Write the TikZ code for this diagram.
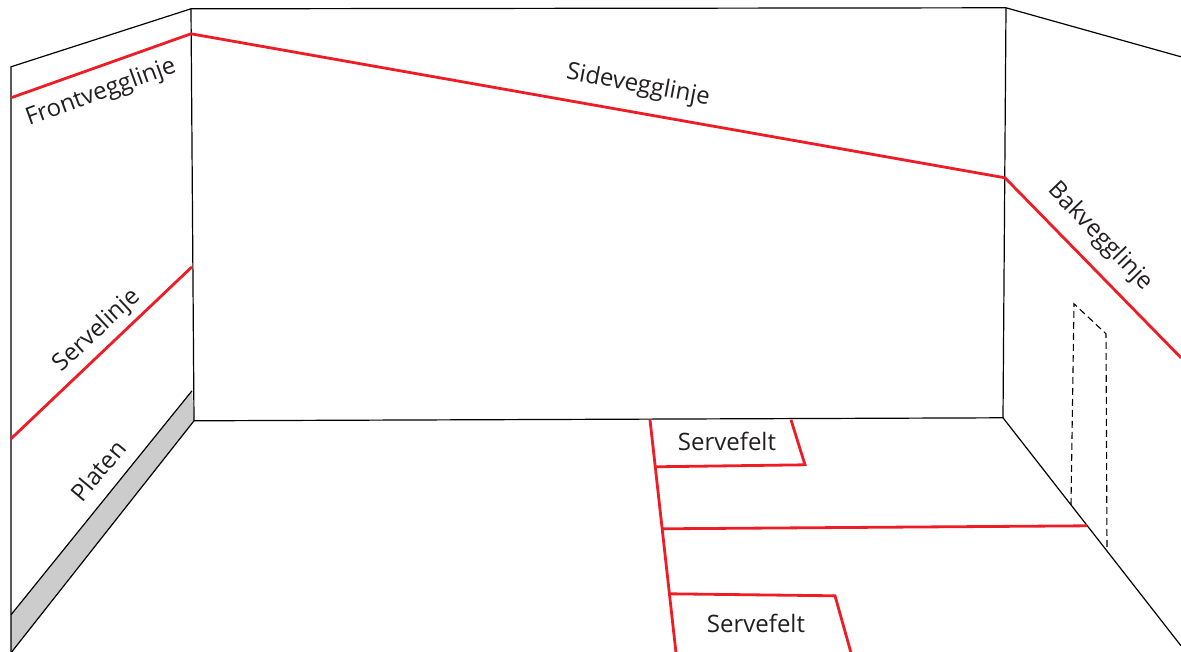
\documentclass[tikz,border=0pt]{standalone}
\usepackage{fontspec}
\setmainfont{Open Sans}
\tikzstyle{wall-line}=[black, line width=1.2pt]
\tikzstyle{court-line}=[CourtRed, line width=2.8pt, line join=miter]
\tikzstyle{hidden-line}=[black, line width=1.1pt, dash pattern=on 7pt off 4pt]
\tikzstyle{court-label}=[inner sep=0pt, text=LabelGrey, font=\fontsize{24pt}{28pt}\selectfont]
\definecolor{CourtRed}{HTML}{ee1c25}
\definecolor{PlateGrey}{HTML}{cccccc}
\definecolor{LabelGrey}{HTML}{231f20}

\begin{document}
\begin{tikzpicture}[x=1pt, y=-1pt]
      \useasboundingbox (0, -0.8) rectangle (1181, 651.2);

      \coordinate (front-top) at (11, 66);
      \coordinate (front-low) at (11, 652);
      \coordinate (left-top) at (191, 8);
      \coordinate (left-low) at (194, 420);
      \coordinate (right-top) at (1006, 7);
      \coordinate (right-low) at (1003, 417);
      \coordinate (back-top) at (1181, 56);
      \coordinate (back-low) at (1181, 645);
      \coordinate (plate-front) at (11, 614);
      \coordinate (plate-left) at (192, 390);

      \coordinate (front-a) at (11, 97);
      \coordinate (front-b) at (191, 33);
      \coordinate (side-b) at (1005, 177);
      \coordinate (back-b) at (1181, 357);
      \coordinate (serve-a) at (11, 438);
      \coordinate (serve-b) at (192, 266);

      \coordinate (short-top) at (650, 419);
      \coordinate (short-low) at (676, 652);
      \coordinate (box1-a) at (655, 466);
      \coordinate (box1-b) at (805, 464);
      \coordinate (box1-c) at (791, 419);
      \coordinate (short-a) at (662, 528);
      \coordinate (short-b) at (1087, 525);
      \coordinate (box2-a) at (669, 593);
      \coordinate (box2-b) at (835, 595);
      \coordinate (box2-c) at (851, 652);

      \coordinate (door-a) at (1071, 504);
      \coordinate (door-b) at (1074, 303);
      \coordinate (door-c) at (1106, 333);
      \coordinate (door-d) at (1107, 548);

      \fill[PlateGrey] (plate-front) -- (plate-left) -- (left-low) -- (front-low) -- cycle;

      \draw[wall-line] (front-low) -- (front-top) -- (left-top) -- (right-top) -- (back-top);
      \draw[wall-line] (left-top) -- (left-low) -- (right-low) -- (right-top);
      \draw[wall-line] (plate-front) -- (plate-left);
      \draw[wall-line] (front-low) -- (left-low);
      \draw[wall-line] (right-low) -- (back-low);
      \draw[hidden-line] (door-a) -- (door-b) -- (door-c) -- (door-d);

      \draw[court-line] (front-a) -- (front-b) -- (side-b) -- (back-b);
      \draw[court-line] (serve-a) -- (serve-b);
      \draw[court-line] (short-top) -- (short-low);
      \draw[court-line] (box1-a) -- (box1-b) -- (box1-c);
      \draw[court-line] (short-a) -- (short-b);
      \draw[court-line] (box2-a) -- (box2-b) -- (box2-c);

      \node (label:front) at (101, 92) [court-label, rotate=20] {Frontvegglinje};
      \node (label:side) at (638, 85) [court-label, rotate=-10.5] {Sidevegglinje};
      \node (label:back) at (1100, 236) [court-label, rotate=-46] {Bakvegglinje};
      \node (label:serve) at (97, 330) [court-label, rotate=43] {Servelinje};
      \node (label:plate) at (98, 470) [court-label, rotate=50] {Platen};
      \node (label:box1) at (727, 441) [court-label] {Servefelt};
      \node (label:box2) at (756, 623) [court-label] {Servefelt};
    \end{tikzpicture}
\end{document}
